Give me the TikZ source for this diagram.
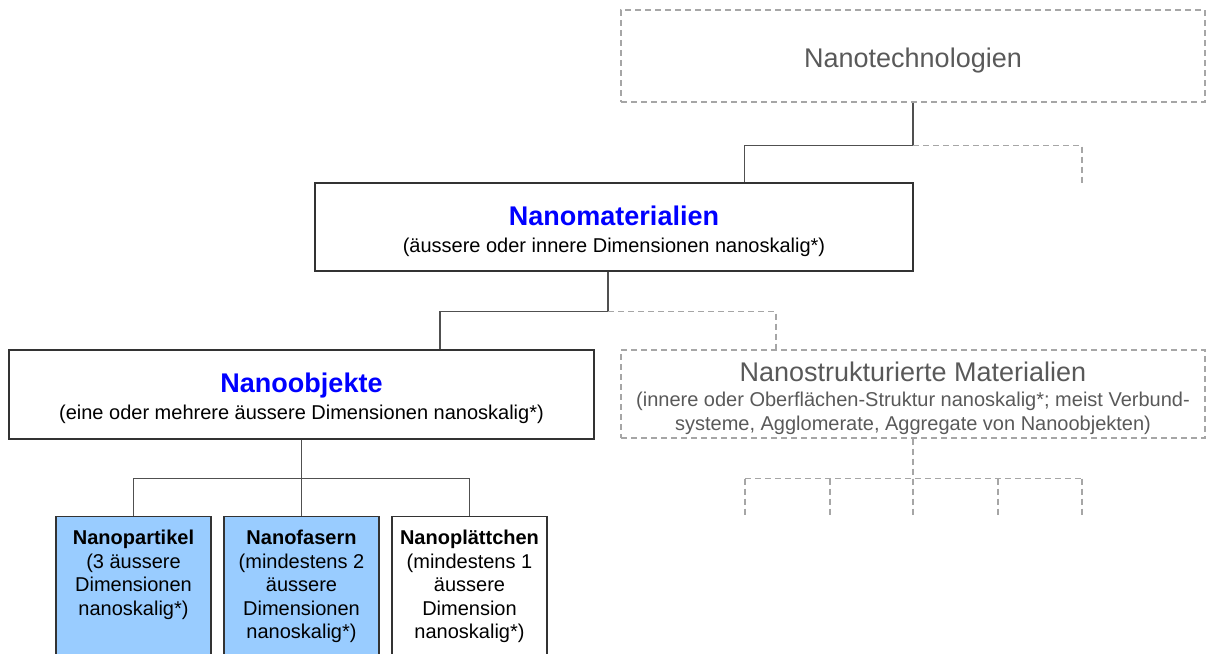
\documentclass[tikz,border=0pt]{standalone}
\usepackage{fontspec}
\setmainfont{Liberation Sans}
\usetikzlibrary{calc}
\definecolor{linegray}{HTML}{505050}
\definecolor{dashgray}{HTML}{A6A6A6}
\definecolor{textgray}{HTML}{595959}
\definecolor{leafblue}{HTML}{99CCFF}
\definecolor{titleblue}{HTML}{0000FF}
\newcommand{\titlefont}{\fontsize{27}{30}\selectfont\rule{0pt}{28pt}}
\newcommand{\subfont}{\fontsize{20}{24}\selectfont}
\tikzset{
  mainbox/.style={draw=black!80, line width=1.3pt, align=center, inner sep=0pt, font=\subfont},
  ghostbox/.style={draw=dashgray, dash pattern=on 6pt off 4pt, line width=1.3pt, text=textgray, align=center, inner sep=0pt, font=\subfont},
  leafbox/.style={draw=black!80, line width=1.3pt, anchor=north, align=center, minimum width=155pt, inner xsep=0pt, inner ysep=13.5pt, text depth=120pt, font=\fontsize{20}{23.5}\selectfont},
  link/.style={draw=linegray, line width=1.3pt},
  ghostlink/.style={draw=dashgray, dash pattern=on 6pt off 4pt, line width=1.3pt},
}

\begin{document}
\begin{tikzpicture}[x=1pt,y=-1pt]
		%%%%% FRAME %%%%%
		\useasboundingbox (0,0) rectangle (1206,653);
		\clip (0,0) rectangle (1206,653);
		
		%%%%% BOXES %%%%%
		\node[ghostbox, minimum width=584pt, minimum height=92pt] (nanotech) at (913,56) {{\titlefont Nanotechnologien}};
		
		\node[mainbox, minimum width=598pt, minimum height=88pt] (nanomat) at (614,227)
			{{\titlefont\bfseries\textcolor{titleblue}{Nanomaterialien}}\\[3pt](äussere oder innere Dimensionen nanoskalig*)};
		
		\node[mainbox, minimum width=585pt, minimum height=89pt] (nanoobj) at (301.5,394.5)
			{{\titlefont\bfseries\textcolor{titleblue}{Nanoobjekte}}\\[3pt](eine oder mehrere äussere Dimensionen nanoskalig*)};
		
		\node[ghostbox, minimum width=584pt, minimum height=88pt] (nanostruct) at (913,394)
			{{\titlefont Nanostrukturierte Materialien}\\[1pt](innere oder Oberflächen-Struktur nanoskalig*; meist Verbund-\\systeme, Agglomerate, Aggregate von Nanoobjekten)};
		
		\node[leafbox, fill=leafblue] (partikel) at (133.5,516) {\textbf{Nanopartikel}\\(3 äussere\\Dimensionen\\nanoskalig*)};
		\node[leafbox, fill=leafblue] (fasern) at (301.5,516) {\textbf{Nanofasern}\\(mindestens 2\\äussere\\Dimensionen\\nanoskalig*)};
		\node[leafbox] (plaettchen) at (469.5,516) {\textbf{Nanoplättchen}\\(mindestens 1\\äussere\\Dimension\\nanoskalig*)};
		
		%%%%% CONNECTORS %%%%%
		\draw[link] (nanotech.south) -- ++(0,43) coordinate (techjoint) -| ([xshift=430pt]nanomat.north west);
		\draw[ghostlink] (techjoint) -| ++(169,37);
		
		\draw[link] ([xshift=-6pt]nanomat.south) -- ++(0,40) coordinate (matjoint) -| ([xshift=138.5pt]nanoobj.north);
		\draw[ghostlink] (matjoint) -| ([xshift=-137pt]nanostruct.north);
		
		\draw[link] (nanoobj.south) -- ++(0,39) coordinate (objjoint);
		\draw[link] (partikel.north) |- (objjoint) -| (plaettchen.north);
		\draw[link] (objjoint) -- (fasern.north);
		
		\draw[ghostlink] (nanostruct.south) -- ++(0,40) coordinate (structjoint);
		\draw[ghostlink] ([xshift=-168pt]structjoint) -- ([xshift=169pt]structjoint);
		\foreach \dx in {-168,-83,0,85,169}
			\draw[ghostlink] ([xshift=\dx pt]structjoint) -- ++(0,39);
		
		%%%%% END %%%%%
\end{tikzpicture}
\end{document}
